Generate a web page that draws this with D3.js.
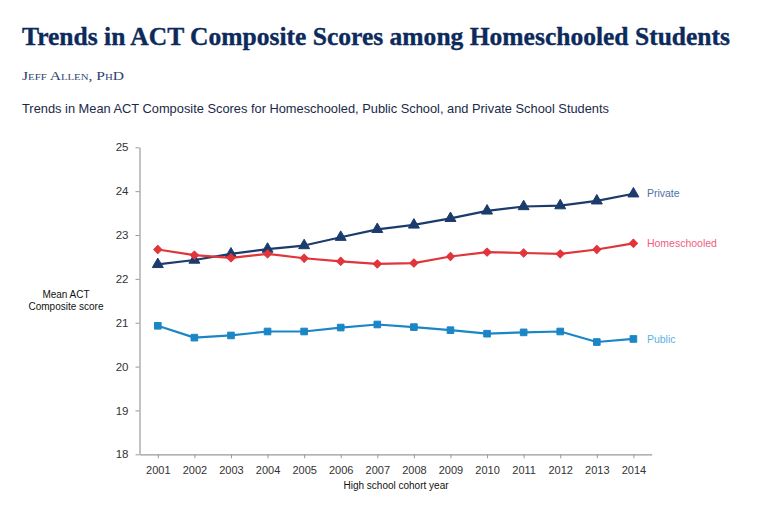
<!DOCTYPE html>
<html>
<head>
<meta charset="utf-8">
<script src="https://cdn.jsdelivr.net/npm/d3@7"></script>
<style>
  html, body { margin: 0; padding: 0; background: #fff; }
  svg { display: block; }
</style>
</head>
<body>
<div id="chart"></div>
<script>
const years = [2001, 2002, 2003, 2004, 2005, 2006, 2007, 2008, 2009, 2010, 2011, 2012, 2013, 2014];
const privateScores = [22.33, 22.43, 22.57, 22.68, 22.76, 22.95, 23.13, 23.23, 23.38, 23.55, 23.65, 23.67, 23.78, 23.94];
const homeschooledScores = [22.67, 22.54, 22.48, 22.57, 22.47, 22.40, 22.34, 22.36, 22.51, 22.61, 22.59, 22.57, 22.67, 22.81];
const publicScores = [20.93, 20.66, 20.71, 20.80, 20.80, 20.89, 20.96, 20.90, 20.83, 20.75, 20.78, 20.80, 20.56, 20.63];
const yTicks = [18, 19, 20, 21, 22, 23, 24, 25];
const seriesNames = ["Private", "Homeschooled", "Public"];

const W = 761, H = 511;
const svg = d3.select("#chart").append("svg").attr("width", W).attr("height", H);

const sans = "'Liberation Sans', Arial, Helvetica, sans-serif";
const serif = "'Liberation Serif', 'Times New Roman', serif";

// Header
svg.append("text")
  .attr("x", 22).attr("y", 45)
  .attr("font-family", serif).attr("font-weight", "bold").attr("font-size", 24.5)
  .attr("fill", "#0c2a5b").attr("stroke", "#0c2a5b").attr("stroke-width", 0.35)
  .attr("textLength", 708).attr("lengthAdjust", "spacingAndGlyphs")
  .text("Trends in ACT Composite Scores among  Homeschooled Students");

svg.append("text")
  .attr("x", 22).attr("y", 80)
  .attr("font-family", serif).attr("font-size", 13)
  .style("font-variant", "small-caps")
  .attr("fill", "#2a3f6e")
  .attr("textLength", 102).attr("lengthAdjust", "spacingAndGlyphs")
  .text("Jeff Allen, PhD");

svg.append("text")
  .attr("x", 22).attr("y", 113)
  .attr("font-family", sans).attr("font-size", 13)
  .attr("fill", "#1a2a4a")
  .attr("textLength", 587).attr("lengthAdjust", "spacingAndGlyphs")
  .text("Trends in Mean ACT Composite Scores for Homeschooled, Public School, and Private School Students");

// Scales
const x = d3.scalePoint().domain(years).range([139.5, 651.7]).padding(0.5);
const y = d3.scaleLinear().domain([18, 25]).range([454.3, 147.3]);

const axisColor = "#9a9a9a";

// Y axis
const yAxis = svg.append("g").attr("transform", "translate(139.5,0)")
  .call(d3.axisLeft(y).tickValues(yTicks).tickSize(4).tickPadding(7).tickSizeOuter(0).tickFormat(d3.format("d")));
yAxis.select(".domain").attr("stroke", axisColor).attr("stroke-width", 1.2);
yAxis.selectAll(".tick line").attr("stroke", axisColor);
yAxis.selectAll(".tick text").attr("font-family", sans).attr("font-size", 11.5).attr("fill", "#333");

// X axis
const xAxis = svg.append("g").attr("transform", "translate(0,454.3)")
  .call(d3.axisBottom(x).tickSize(4).tickPadding(8).tickSizeOuter(0).tickFormat(d3.format("d")));
xAxis.select(".domain").attr("stroke", axisColor).attr("stroke-width", 1.2);
xAxis.selectAll(".tick line").attr("stroke", axisColor);
xAxis.selectAll(".tick text").attr("font-family", sans).attr("font-size", 11).attr("fill", "#333");

// Axis titles
svg.append("text").attr("x", 396).attr("y", 488.5).attr("text-anchor", "middle")
  .attr("font-family", sans).attr("font-size", 10).attr("fill", "#111")
  .text("High school cohort year");
const yt = svg.append("text").attr("text-anchor", "middle")
  .attr("font-family", sans).attr("font-size", 10).attr("fill", "#111");
yt.append("tspan").attr("x", 66).attr("y", 297.5).text("Mean ACT");
yt.append("tspan").attr("x", 66).attr("y", 309.5).text("Composite score");

// Series
const series = [
  { name: seriesNames[0], values: privateScores, color: "#1c3b6d", label: "#4f6fa6", symbol: d3.symbolTriangle, size: 52, rot: 0 },
  { name: seriesNames[1], values: homeschooledScores, color: "#e0353b", label: "#f25c7e", symbol: d3.symbolSquare, size: 34, rot: 45 },
  { name: seriesNames[2], values: publicScores, color: "#1b86c6", label: "#5bb1e4", symbol: d3.symbolSquare, size: 44, rot: 0 }
];

const line = d3.line().x((d, i) => x(years[i])).y(d => y(d));

series.forEach(s => {
  svg.append("path").datum(s.values)
    .attr("d", line).attr("fill", "none")
    .attr("stroke", s.color).attr("stroke-width", 2.2).attr("stroke-linejoin", "round");
  svg.append("g").selectAll("path").data(s.values).join("path")
    .attr("transform", (d, i) => `translate(${x(years[i])},${y(d)}) rotate(${s.rot})`)
    .attr("d", d3.symbol().type(s.symbol).size(s.size))
    .attr("fill", s.color).attr("stroke", s.color).attr("stroke-width", 1).attr("stroke-linejoin", "round");
  const last = s.values[s.values.length - 1];
  svg.append("text")
    .attr("x", x(years[years.length - 1]) + 13.5)
    .attr("y", y(last)).attr("dy", "0.35em")
    .attr("font-family", sans).attr("font-size", 10.5)
    .attr("fill", s.label)
    .text(s.name);
});
</script>
</body>
</html>
